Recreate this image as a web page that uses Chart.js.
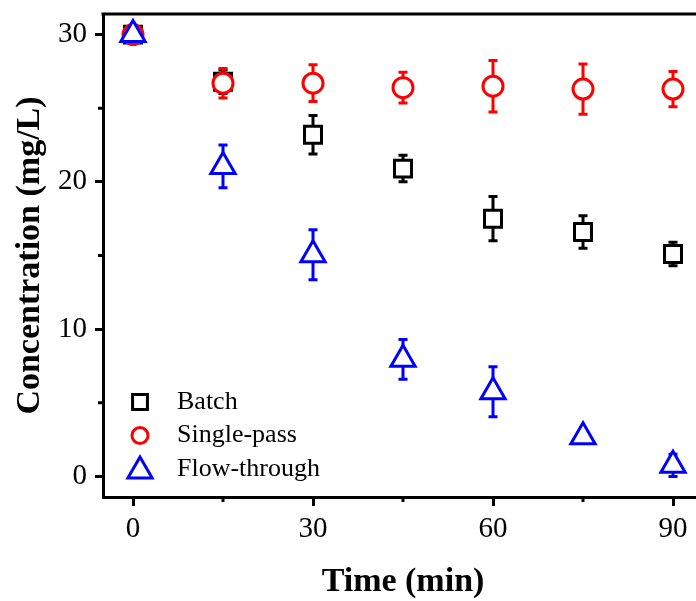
<!DOCTYPE html>
<html>
<head>
<meta charset="utf-8">
<script src="https://cdn.jsdelivr.net/npm/chart.js@4.4.1/dist/chart.umd.min.js"></script>
<style>
  html, body { margin: 0; padding: 0; background: #fff; overflow: hidden; }
  canvas { display: block; }
</style>
</head>
<body>
<canvas id="conc" width="706" height="601"></canvas>
<script>
const times = [0, 15, 30, 45, 60, 75, 90];

const batch = [30, 26.8, 23.2, 20.9, 17.5, 16.6, 15.1];
const batchErr = [0.3, 0.8, 1.3, 0.9, 1.5, 1.1, 0.8];

const single = [30, 26.7, 26.7, 26.4, 26.5, 26.3, 26.3];
const singleErr = [0.3, 1.0, 1.25, 1.05, 1.75, 1.7, 1.2];

const flow = [30, 21.05, 15.05, 7.95, 5.75, 2.7, 0.75];
const flowErr = [0.3, 1.45, 1.7, 1.35, 1.7, 0.3, 0.75];

const xTicks = [0, 30, 60, 90];
const xMinor = [15, 45, 75];
const yTicks = [0, 10, 20, 30];
const yMinor = [5, 15, 25];

const FONT = "'Liberation Serif', 'Times New Roman', serif";

function points(vals) {
  return times.map((t, i) => ({x: t, y: vals[i]}));
}

// error bars go under the markers (markers have white fill)
const errorBars = {
  id: "errorBars",
  beforeDatasetsDraw(chart) {
    const ctx = chart.ctx;
    const y = chart.scales.y;
    chart.data.datasets.forEach((ds, i) => {
      const meta = chart.getDatasetMeta(i);
      ctx.save();
      ctx.strokeStyle = ds.borderColor;
      ctx.lineWidth = 3;
      meta.data.forEach((el, j) => {
        const v = ds.data[j].y, e = ds.errors[j];
        const top = y.getPixelForValue(v + e);
        const bot = y.getPixelForValue(v - e);
        ctx.beginPath();
        ctx.moveTo(el.x, top);
        ctx.lineTo(el.x, bot);
        ctx.moveTo(el.x - 4.5, top);
        ctx.lineTo(el.x + 4.5, top);
        ctx.moveTo(el.x - 4.5, bot);
        ctx.lineTo(el.x + 4.5, bot);
        ctx.stroke();
      });
      ctx.restore();
    });
  }
};

// top frame line, minor ticks and the legend in the lower left corner
const frameAndLegend = {
  id: "frameAndLegend",
  afterDraw(chart) {
    const ctx = chart.ctx;
    const a = chart.chartArea;
    ctx.save();
    ctx.strokeStyle = "#000";
    ctx.lineWidth = 3;
    ctx.beginPath();
    ctx.moveTo(a.left - 1.5, a.top);
    ctx.lineTo(a.right, a.top);
    yMinor.forEach(v => {
      const py = chart.scales.y.getPixelForValue(v);
      ctx.moveTo(a.left - 5, py);
      ctx.lineTo(a.left, py);
    });
    xMinor.forEach(v => {
      const px = chart.scales.x.getPixelForValue(v);
      ctx.moveTo(px, a.bottom);
      ctx.lineTo(px, a.bottom + 5);
    });
    ctx.stroke();

    const lx = a.left + 37, ly = a.bottom - 95, gap = 33.5;
    const legendRadius = [10.5, 8, 14];
    chart.data.datasets.forEach((ds, i) => {
      const cy = ly + i * gap + (ds.pointStyle === "triangle" ? 2 : 0);
      ctx.strokeStyle = ds.borderColor;
      ctx.fillStyle = "#fff";
      ctx.lineWidth = 3;
      Chart.helpers.drawPoint(ctx, {pointStyle: ds.pointStyle, radius: legendRadius[i], rotation: 0, borderWidth: 3}, lx, cy);
      ctx.fillStyle = "#000";
      ctx.font = "26px " + FONT;
      ctx.textBaseline = "middle";
      ctx.textAlign = "left";
      ctx.fillText(ds.label, lx + 37, ly + i * gap);
    });
    ctx.restore();
  }
};

new Chart(document.getElementById("conc"), {
  type: "scatter",
  data: {
    datasets: [
      {label: "Batch", data: points(batch), errors: batchErr, pointStyle: "rect", pointRadius: 12,
        borderColor: "#000000", backgroundColor: "#ffffff", pointBorderWidth: 3, order: 2},
      {label: "Single-pass", data: points(single), errors: singleErr, pointStyle: "circle", pointRadius: 10,
        borderColor: "#ff0000", backgroundColor: "#ffffff", pointBorderWidth: 3, order: 1},
      {label: "Flow-through", data: points(flow), errors: flowErr, pointStyle: "triangle", pointRadius: 14,
        borderColor: "#0000ff", backgroundColor: "#ffffff", pointBorderWidth: 3, order: 0}
    ]
  },
  options: {
    responsive: false,
    animation: false,
    layout: {autoPadding: false, padding: {top: 14, right: 3, left: 0, bottom: 0}},
    plugins: {legend: {display: false}, tooltip: {enabled: false}},
    scales: {
      x: {
        type: "linear",
        min: -5,
        max: 95,
        afterBuildTicks: s => { s.ticks = xTicks.map(v => ({value: v})); },
        afterFit: s => { s.height = 104; s.paddingLeft = 0; s.paddingRight = 0; },
        grid: {drawOnChartArea: false, tickLength: 9, tickWidth: 3, tickColor: "#000"},
        border: {display: true, width: 3, color: "#000"},
        ticks: {color: "#000", padding: 6, font: {family: FONT, size: 29}},
        title: {display: true, text: "Time (min)", color: "#000", padding: {top: 0, bottom: -2},
          font: {family: FONT, size: 34, weight: "bold"}}
      },
      y: {
        type: "linear",
        min: -1.4,
        max: 31.4,
        afterBuildTicks: s => { s.ticks = yTicks.map(v => ({value: v})); },
        afterFit: s => { s.width = 103; s.paddingTop = 0; s.paddingBottom = 0; },
        grid: {drawOnChartArea: false, tickLength: 8, tickWidth: 3, tickColor: "#000"},
        border: {display: true, width: 3, color: "#000"},
        ticks: {color: "#000", padding: 8, font: {family: FONT, size: 29}},
        title: {display: true, text: "Concentration (mg/L)", color: "#000", padding: {top: 10, bottom: 0},
          font: {family: FONT, size: 34, weight: "bold"}}
      }
    }
  },
  plugins: [errorBars, frameAndLegend]
});
</script>
</body>
</html>
